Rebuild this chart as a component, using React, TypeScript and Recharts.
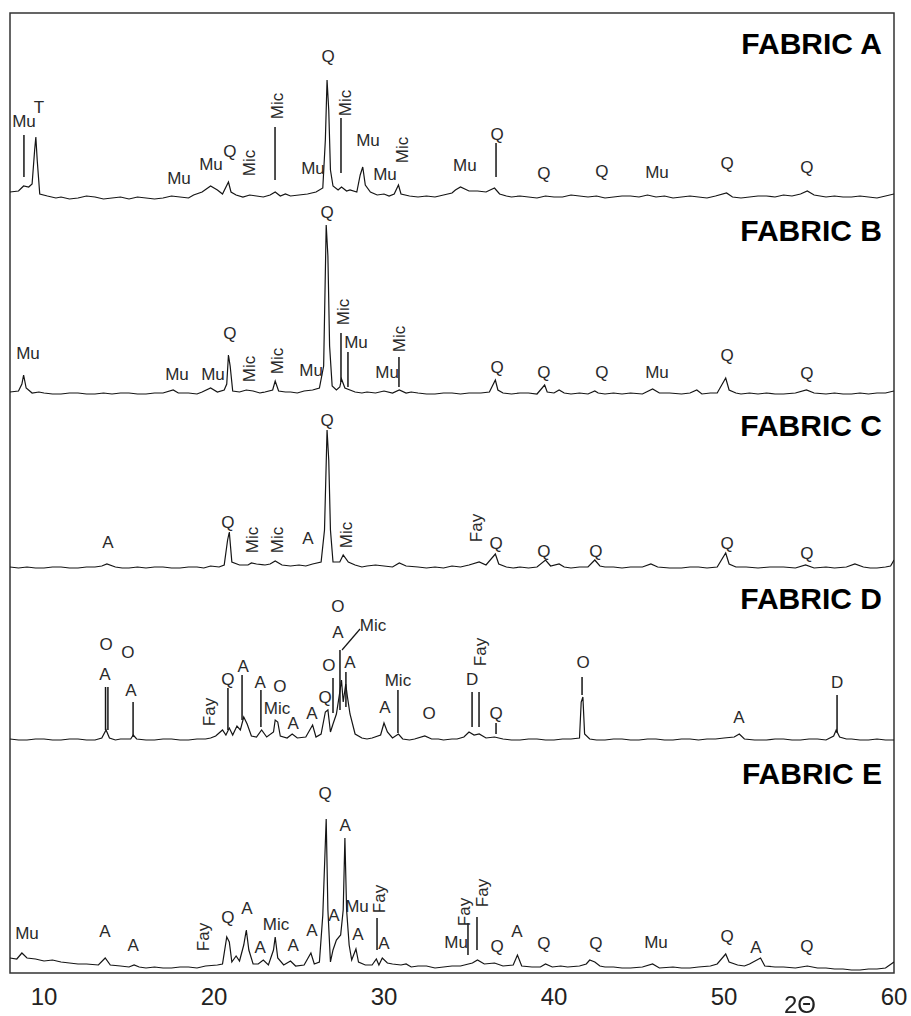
import { LineChart, Line, XAxis, YAxis, ReferenceDot, ReferenceLine, ReferenceArea } from 'recharts';

type Pt = [number, number];
// text, 2θ, height above the trace zero, rotated (1) or not
type Tag = [string, number, number, number?];
// 2θ, top, bottom (heights above the trace zero)
type Stick = [number, number, number];

const FONT = '"Liberation Sans", Arial, sans-serif';
const TICKS = [10, 20, 30, 40, 50, 60];

// intensities, arbitrary counts
const fabricA: Pt[] = [
  [8.0, 8], [8.5, 9], [8.8, 14], [9.1, 13], [9.3, 16], [9.45, 50], [9.52, 63], [9.6, 40], [9.75, 6],
  [10.2, 4], [10.7, 2], [11, 3], [11.5, 1], [12, 2], [12.5, 4], [13, 3], [13.5, 1], [14, 2], [14.5, 3],
  [15, 1], [15.5, 3], [16, 2], [16.5, 1], [17, 2], [17.5, 4], [18, 3], [18.5, 2], [18.8, 5], [19.3, 8],
  [19.8, 14], [20.2, 10], [20.5, 6], [20.85, 18], [21.0, 8], [21.3, 5], [21.7, 3], [22.1, 5], [22.5, 4],
  [22.9, 3], [23.3, 5], [23.6, 8], [23.9, 4], [24.2, 6], [24.5, 4], [25.0, 5], [25.5, 6], [26.0, 8],
  [26.4, 12], [26.55, 60], [26.65, 120], [26.75, 90], [26.85, 30], [27.0, 14], [27.3, 10], [27.5, 13],
  [27.8, 9], [28.0, 10], [28.4, 8], [28.6, 25], [28.75, 33], [28.9, 15], [29.2, 8], [29.6, 5], [30.0, 6],
  [30.3, 4], [30.6, 6], [30.85, 15], [31.0, 6], [31.5, 4], [32.0, 3], [32.5, 4], [33.0, 3], [33.5, 5],
  [34.0, 7], [34.2, 10], [34.5, 13], [35.0, 9], [35.5, 9], [36.0, 8], [36.5, 12], [36.8, 6], [37.2, 4],
  [37.5, 3], [38.0, 4], [38.5, 3], [39.0, 2], [39.5, 4], [40.0, 3], [40.5, 3], [41.0, 5], [41.5, 4],
  [42.0, 3], [42.5, 4], [43.0, 2], [43.5, 3], [44.0, 4], [44.5, 4], [45.0, 3], [45.5, 5], [46.0, 3],
  [46.5, 4], [47.0, 2], [47.5, 3], [48.0, 4], [48.5, 3], [49.0, 2], [49.5, 4], [50.15, 7], [50.5, 3],
  [51.0, 2], [51.5, 3], [52.0, 4], [52.5, 4], [53.0, 3], [53.5, 5], [54.0, 4], [54.5, 6], [54.9, 9],
  [55.3, 5], [56.0, 3], [56.5, 4], [57.0, 3], [57.5, 3], [58.0, 4], [58.5, 3], [59.0, 2], [59.5, 4], [60, 6],
];

const fabricB: Pt[] = [
  [8.0, 4], [8.5, 5], [8.7, 12], [8.8, 21], [8.95, 8], [9.3, 3], [9.7, 4], [10, 3], [10.5, 2], [11, 2],
  [11.5, 3], [12, 3], [12.5, 2], [13, 2], [13.5, 3], [14, 2], [14.5, 3], [15, 3], [15.5, 2], [16, 2],
  [16.5, 3], [17, 3], [17.6, 6], [17.9, 3], [18.5, 3], [19.0, 2], [19.3, 4], [19.8, 8], [20.2, 4],
  [20.6, 6], [20.75, 12], [20.85, 41], [20.95, 30], [21.1, 5], [21.5, 4], [21.9, 6], [22.3, 5], [22.7, 3],
  [23.0, 4], [23.45, 6], [23.6, 15], [23.8, 5], [24.2, 4], [24.5, 4], [24.9, 3], [25.3, 5], [25.8, 6],
  [26.2, 8], [26.45, 30], [26.6, 171], [26.7, 140], [26.8, 50], [26.95, 10], [27.2, 6], [27.4, 9],
  [27.5, 17], [27.7, 8], [28.0, 6], [28.3, 4], [28.7, 3], [29.0, 4], [29.5, 3], [30.0, 5], [30.5, 3],
  [30.9, 6], [31.3, 3], [31.6, 4], [32, 3], [32.5, 2], [33, 2], [33.5, 3], [34, 3], [34.5, 2], [35, 3],
  [35.7, 3], [36.2, 4], [36.55, 16], [36.7, 6], [37, 3], [37.5, 2], [38, 3], [38.5, 3], [39.0, 2],
  [39.45, 11], [39.6, 4], [40.0, 3], [40.3, 6], [40.6, 3], [41.0, 2], [41.5, 3], [42.0, 2], [42.4, 5],
  [42.6, 3], [43.0, 2], [43.5, 3], [44.0, 2], [44.5, 3], [45.2, 2], [45.8, 7], [46.2, 3], [46.8, 3],
  [47.5, 2], [48.0, 3], [48.4, 6], [48.7, 2], [49.2, 3], [49.6, 3], [50.1, 18], [50.3, 6], [50.7, 3],
  [51.0, 2], [51.5, 3], [52.0, 2], [52.5, 3], [53.0, 2], [53.5, 2], [54.2, 3], [54.85, 6], [55.3, 3],
  [56.0, 2], [56.5, 3], [57.0, 2], [57.5, 2], [58.0, 3], [58.5, 2], [59.0, 3], [59.5, 3], [60, 5],
];

const fabricC: Pt[] = [
  [8, 3], [8.5, 2], [9, 3], [9.5, 2], [10, 2], [10.5, 3], [11, 3], [11.5, 2], [12, 2], [12.5, 3], [13, 3],
  [13.4, 4], [13.7, 6], [14.2, 3], [14.6, 2], [15, 2], [15.5, 3], [16, 2], [16.5, 3], [17, 3], [17.5, 2],
  [18, 2], [18.5, 3], [19, 3], [19.4, 2], [19.8, 4], [20.3, 3], [20.6, 5], [20.8, 30], [20.9, 38],
  [21.05, 8], [21.5, 5], [22, 5], [22.2, 7], [22.5, 6], [23, 5], [23.3, 6], [23.6, 9], [24, 5], [24.5, 4],
  [25, 5], [25.4, 4], [25.8, 6], [26.3, 8], [26.5, 40], [26.65, 140], [26.75, 110], [26.85, 40],
  [27.0, 8], [27.4, 8], [27.6, 15], [27.9, 8], [28.3, 5], [28.7, 3], [29, 4], [29.5, 5], [30, 4],
  [30.5, 3], [30.9, 7], [31.3, 4], [32, 3], [32.5, 2], [33, 3], [33.5, 2], [34, 4], [34.5, 3], [35, 5],
  [35.6, 8], [36.0, 5], [36.55, 16], [36.75, 6], [37.2, 3], [37.6, 2], [38, 3], [38.5, 2], [39, 3],
  [39.5, 10], [39.8, 4], [40.3, 6], [40.6, 3], [41.0, 2], [41.5, 3], [42.0, 3], [42.4, 10], [42.7, 4],
  [43.0, 3], [43.5, 3], [44.0, 2], [44.5, 3], [45.2, 3], [45.7, 6], [46.1, 3], [46.8, 2], [47.5, 2],
  [48.0, 3], [48.5, 3], [49.0, 2], [49.6, 3], [50.1, 17], [50.3, 6], [50.7, 3], [51.3, 3], [52, 2],
  [52.7, 3], [53.5, 3], [54.2, 2], [54.8, 5], [55.3, 2], [56, 3], [56.5, 2], [57.2, 3], [57.7, 6],
  [58.2, 3], [58.6, 2], [59, 2], [59.5, 3], [59.8, 4], [60, 10],
];

const fabricD: Pt[] = [
  [8, 3], [8.5, 2], [9, 2], [9.5, 3], [10, 3], [10.5, 2], [11, 2], [11.5, 3], [12, 3], [12.5, 2], [13, 2],
  [13.4, 4], [13.65, 12], [13.85, 4], [14.2, 2], [14.5, 3], [15.1, 3], [15.25, 7], [15.45, 3], [16, 2],
  [16.5, 2], [17, 3], [17.5, 3], [18, 2], [18.5, 2], [19, 3], [19.5, 3], [19.8, 4], [20.1, 6], [20.5, 12],
  [20.7, 7], [20.9, 14], [21.1, 7], [21.35, 16], [21.55, 12], [21.75, 25], [21.95, 18], [22.2, 6],
  [22.5, 5], [22.8, 12], [23.1, 5], [23.5, 10], [23.6, 22], [23.75, 20], [23.9, 6], [24.3, 4], [24.6, 8],
  [24.9, 4], [25.4, 5], [25.8, 17], [26.0, 5], [26.3, 8], [26.55, 30], [26.7, 32], [26.85, 10],
  [27.0, 18], [27.2, 28], [27.4, 50], [27.5, 62], [27.6, 40], [27.75, 58], [27.85, 45], [28.0, 28],
  [28.3, 8], [28.7, 4], [29.0, 3], [29.3, 4], [29.8, 7], [30.0, 19], [30.2, 10], [30.5, 4], [30.85, 8],
  [31.1, 3], [31.5, 2], [31.8, 3], [32.4, 6], [32.8, 3], [33.2, 3], [33.5, 2], [34.0, 3], [34.3, 3],
  [34.7, 5], [35.0, 10], [35.3, 7], [35.6, 8], [36.0, 4], [36.5, 5], [37, 3], [37.5, 2], [38, 2],
  [38.5, 3], [39, 3], [39.5, 2], [40, 2], [40.5, 3], [41, 3], [41.5, 4], [41.6, 40], [41.7, 45],
  [41.8, 8], [42.1, 3], [42.5, 2], [43, 2], [43.5, 3], [44, 3], [44.5, 2], [45, 2], [45.5, 3], [46, 3],
  [46.5, 2], [47, 2], [47.5, 3], [48, 3], [48.5, 2], [49, 3], [49.5, 3], [50, 4], [50.6, 5], [50.9, 8],
  [51.2, 3], [51.8, 2], [52.5, 2], [53, 3], [53.5, 3], [54, 2], [54.5, 2], [55, 3], [55.5, 3], [56, 2],
  [56.45, 6], [56.6, 12], [56.8, 5], [57.2, 3], [57.5, 3], [58, 2], [58.5, 2], [59, 3], [59.5, 2], [60, 2],
];

const fabricE: Pt[] = [
  [8, 12], [8.4, 11], [8.7, 17], [9.0, 12], [9.5, 11], [10, 9], [10.5, 10], [11, 8], [11.5, 7], [12, 6],
  [12.5, 6], [13.2, 5], [13.6, 12], [13.9, 5], [14.5, 4], [15.0, 3], [15.3, 5], [15.6, 3], [16.0, 2],
  [16.5, 3], [17.0, 2], [17.5, 2], [18, 3], [18.5, 3], [19, 2], [19.5, 4], [20.2, 5], [20.5, 6],
  [20.75, 33], [20.9, 28], [21.05, 8], [21.3, 14], [21.5, 9], [21.75, 25], [21.9, 40], [22.05, 20],
  [22.3, 6], [22.6, 6], [22.9, 10], [23.2, 5], [23.5, 20], [23.6, 33], [23.75, 12], [24.1, 5],
  [24.5, 9], [24.8, 4], [25.3, 5], [25.7, 17], [25.9, 6], [26.2, 8], [26.4, 55], [26.6, 151], [26.7, 60],
  [26.85, 8], [27.0, 20], [27.2, 30], [27.45, 35], [27.6, 60], [27.7, 132], [27.8, 60], [27.95, 25],
  [28.1, 10], [28.35, 21], [28.5, 8], [28.9, 5], [29.3, 5], [29.55, 11], [29.7, 5], [29.9, 12],
  [30.2, 7], [30.5, 6], [31.0, 5], [31.3, 6], [31.6, 3], [32.0, 4], [32.5, 4], [33.0, 2], [33.5, 3],
  [34.0, 4], [34.5, 4], [35.2, 7], [35.5, 10], [35.9, 6], [36.5, 7], [37.0, 4], [37.6, 5], [37.85, 15],
  [38.1, 4], [38.7, 3], [39.2, 3], [39.5, 6], [39.9, 3], [40.4, 4], [40.8, 3], [41.5, 4], [41.9, 6],
  [42.1, 10], [42.4, 8], [42.7, 4], [43.0, 3], [43.5, 3], [44.0, 2], [44.5, 2], [45.2, 3], [45.8, 6],
  [46.2, 2], [47.0, 3], [47.5, 2], [48.0, 2], [48.5, 3], [49.2, 4], [49.6, 6], [50.1, 16], [50.3, 8],
  [50.8, 5], [51.2, 4], [51.5, 6], [52.15, 12], [52.4, 4], [53.0, 3], [53.5, 3], [54.2, 2], [54.9, 4],
  [55.5, 2], [56.0, 2], [56.5, 1], [57.0, 1], [57.5, 0], [58.0, 0], [58.5, 1], [59.0, 1], [59.5, 2], [60, 8],
];

const tagsA: Tag[] = [
  ['Mu', 8.82, 79], ['T', 9.71, 93], ['Mu', 17.94, 22], ['Mu', 19.82, 36], ['Q', 20.94, 49],
  ['Mic', 22.06, 37, 1], ['Mic', 23.71, 94, 1], ['Q', 26.71, 144], ['Mu', 25.82, 32], ['Mic', 27.71, 97, 1],
  ['Mu', 29.06, 60], ['Mu', 30.06, 26], ['Mic', 31.06, 50, 1], ['Mu', 34.76, 35], ['Q', 36.65, 66],
  ['Q', 39.41, 27], ['Q', 42.82, 29], ['Mu', 46.06, 28], ['Q', 50.18, 37], ['Q', 54.88, 33],
];
const sticksA: Stick[] = [[8.82, 65, 23], [23.59, 73, 20], [27.47, 82, 27], [36.59, 57, 23]];

const tagsB: Tag[] = [
  ['Mu', 9.06, 43], ['Mu', 17.82, 22], ['Mu', 19.94, 22], ['Q', 20.94, 63], ['Mic', 22.06, 27, 1],
  ['Mic', 23.71, 35, 1], ['Mu', 25.71, 26], ['Q', 26.65, 184], ['Mic', 27.59, 84, 1], ['Mu', 28.35, 54],
  ['Mu', 30.18, 24], ['Mic', 30.94, 57, 1], ['Q', 36.65, 29], ['Q', 39.41, 24], ['Q', 42.82, 24],
  ['Mu', 46.06, 24], ['Q', 50.18, 41], ['Q', 54.88, 23],
];
const sticksB: Stick[] = [[27.47, 63, 14], [27.88, 44, 9], [30.88, 39, 9]];

const tagsC: Tag[] = [
  ['A', 13.76, 28], ['Q', 20.82, 48], ['Mic', 22.24, 30, 1], ['Mic', 23.71, 30, 1], ['A', 25.53, 32],
  ['Q', 26.65, 150], ['Mic', 27.82, 35, 1], ['Fay', 35.47, 42, 1], ['Q', 36.59, 27], ['Q', 39.41, 19],
  ['Q', 42.47, 19], ['Q', 50.18, 27], ['Q', 54.88, 17],
];
const sticksC: Stick[] = [];

const tagsD: Tag[] = [
  ['O', 13.65, 98], ['A', 13.59, 68], ['O', 14.94, 90], ['A', 15.12, 52], ['Fay', 19.71, 30, 1],
  ['Q', 20.82, 63], ['A', 21.71, 76], ['A', 22.71, 60], ['O', 23.88, 56], ['Mic', 23.71, 34],
  ['A', 24.65, 19], ['A', 25.76, 29], ['Q', 26.53, 45], ['O', 26.76, 77], ['O', 27.29, 136],
  ['A', 27.29, 110], ['Mic', 29.35, 117], ['A', 28.0, 80], ['A', 30.06, 35], ['Mic', 30.82, 62],
  ['O', 32.65, 29], ['D', 35.18, 63], ['Fay', 35.65, 90, 1], ['Q', 36.59, 29], ['O', 41.71, 80],
  ['A', 50.88, 25], ['D', 56.65, 60],
];
const sticksD: Stick[] = [
  [13.62, 55, 12], [13.76, 55, 12], [15.24, 40, 5], [20.82, 54, 12], [21.65, 67, 22], [22.76, 52, 15],
  [27.0, 64, 29], [27.41, 92, 32], [27.76, 70, 35], [30.82, 52, 9], [35.18, 50, 15], [35.59, 50, 15],
  [36.59, 19, 8], [41.65, 65, 47], [56.65, 47, 9],
];
// Mic leader in fabric D: from (2θ, h) to (2θ, h)
const leaderD = [27.53, 92, 28.59, 113];

const tagsE: Tag[] = [
  ['Mu', 9.0, 37], ['A', 13.59, 39], ['A', 15.24, 25], ['Fay', 19.41, 33, 1], ['Q', 20.82, 53],
  ['A', 21.94, 62], ['A', 22.71, 23], ['Mic', 23.65, 46], ['A', 24.65, 25], ['A', 25.76, 40],
  ['Q', 26.53, 177], ['A', 27.06, 55], ['A', 27.71, 145], ['Mu', 28.41, 64], ['A', 28.47, 36],
  ['Fay', 29.76, 71, 1], ['A', 30.0, 27], ['Mu', 34.24, 28], ['Fay', 34.76, 58, 1], ['Fay', 35.82, 77, 1],
  ['Q', 36.65, 24], ['A', 37.82, 39], ['Q', 39.41, 27], ['Q', 42.47, 27], ['Mu', 46.0, 28],
  ['Q', 50.18, 34], ['A', 51.88, 23], ['Q', 54.88, 24],
];
const sticksE: Stick[] = [[29.59, 52, 20], [34.94, 47, 15], [35.47, 53, 20]];

const fabrics = [
  { name: 'FABRIC A', trace: fabricA, tags: tagsA, sticks: sticksA, base: 773, title: 157 },
  { name: 'FABRIC B', trace: fabricB, tags: tagsB, sticks: sticksB, base: 577, title: 166 },
  { name: 'FABRIC C', trace: fabricC, tags: tagsC, sticks: sticksC, base: 403, title: 145 },
  { name: 'FABRIC D', trace: fabricD, tags: tagsD, sticks: sticksD, base: 231, title: 144 },
  { name: 'FABRIC E', trace: fabricE, tags: tagsE, sticks: sticksE, base: 3, title: 197 },
];

const tagShape = (text: string, rotated: boolean) => (p: any) => (
  <text
    x={p.cx}
    y={p.cy}
    textAnchor="middle"
    dominantBaseline="central"
    fontSize={17}
    fontFamily={FONT}
    fill="#2a2a2a"
    transform={rotated ? `rotate(-90, ${p.cx}, ${p.cy})` : undefined}
  >
    {text}
  </text>
);

const titleShape = (text: string) => (p: any) => (
  <text x={p.cx} y={p.cy} textAnchor="end" dominantBaseline="central" fontSize={30} fontWeight="bold" fontFamily={FONT} fill="#000">
    {text}
  </text>
);

export default function App() {
  // fixed so the page never grows a scrollbar
  return (
    <div style={{ position: 'fixed', left: 8, top: 8, width: 903, height: 1008, background: '#fff' }}>
      <LineChart width={903} height={1008} margin={{ top: 5, right: 17, left: 2, bottom: 0 }}>
        <XAxis
          type="number"
          dataKey="x"
          domain={[8, 60]}
          ticks={TICKS}
          interval={0}
          allowDataOverflow
          tickLine={false}
          axisLine={false}
          tickSize={6}
          tickMargin={9}
          height={43}
          tick={{ fontSize: 24, fill: '#222', fontFamily: FONT }}
        />
        <YAxis type="number" domain={[0, 960]} hide allowDataOverflow />
        <ReferenceArea x1={8} x2={60} y1={0} y2={960} fill="none" stroke="#333" strokeWidth={1.5} ifOverflow="visible" />
        {fabrics.map((f) => (
          <Line
            key={f.name}
            data={f.trace.map(([x, i]) => ({ x, y: f.base + i }))}
            dataKey="y"
            type="linear"
            stroke="#151515"
            strokeWidth={1.2}
            dot={false}
            isAnimationActive={false}
          />
        ))}
        {fabrics.map((f) =>
          f.sticks.map(([x, h1, h2], k) => (
            <ReferenceLine
              key={`${f.name}-s${k}`}
              segment={[{ x, y: f.base + h1 }, { x, y: f.base + h2 }]}
              stroke="#151515"
              strokeWidth={1.5}
              ifOverflow="visible"
            />
          ))
        )}
        <ReferenceLine
          segment={[{ x: leaderD[0], y: 231 + leaderD[1] }, { x: leaderD[2], y: 231 + leaderD[3] }]}
          stroke="#151515"
          strokeWidth={1.2}
          ifOverflow="visible"
        />
        {fabrics.map((f) =>
          f.tags.map(([t, x, h, rot], k) => (
            <ReferenceDot
              key={`${f.name}-t${k}`}
              x={x}
              y={f.base + h}
              r={0}
              ifOverflow="visible"
              shape={tagShape(t, !!rot)}
            />
          ))
        )}
        {fabrics.map((f) => (
          <ReferenceDot key={`${f.name}-title`} x={59.29} y={f.base + f.title} r={0} ifOverflow="visible" shape={titleShape(f.name)} />
        ))}
      </LineChart>
      <div
        style={{
          position: 'absolute',
          left: 772,
          top: 985,
          width: 40,
          textAlign: 'center',
          fontSize: 24,
          lineHeight: '24px',
          fontFamily: FONT,
          color: '#222',
        }}
      >
        2Θ
      </div>
    </div>
  );
}
